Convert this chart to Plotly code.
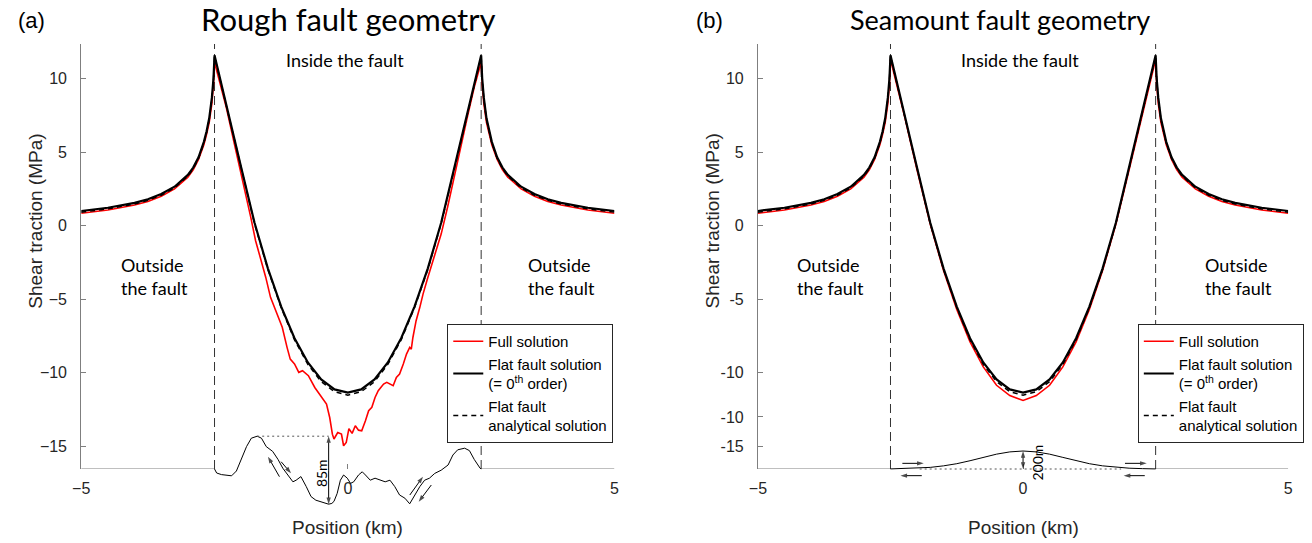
import plotly.graph_objects as go

W, H = 1312, 543

# ---------------- data ----------------
FAULT_EDGE = 2.5          # fault tips at +/- 2.5 km
X_TICKS = [-5, 0, 5]
Y_TICKS_A = [-15, -10, -5, 0, 5, 10]
Y_TICKS_B = [-15, -13, -10, -5, 0, 5, 10]
Y_TICKTEXT_B = ["-15", "-10", "-10", "-5", "0", "5", "10"]

# positions (km) shared by the flat-fault curves
x_flat = [-5.0, -4.5, -4.0, -3.75, -3.5, -3.25, -3.0, -2.9, -2.8, -2.7, -2.65, -2.6, -2.55, -2.52, -2.5,
          -2.45, -2.35, -2.25, -2.0, -1.75, -1.5, -1.25, -1.0, -0.75, -0.5, -0.25,
          0.0,
          0.25, 0.5, 0.75, 1.0, 1.25, 1.5, 1.75, 2.0, 2.25, 2.35, 2.45,
          2.5, 2.52, 2.55, 2.6, 2.65, 2.7, 2.8, 2.9, 3.0, 3.25, 3.5, 3.75, 4.0, 4.5, 5.0]

# flat fault solution (= 0th order), MPa
tau_flat = [1.00, 1.22, 1.55, 1.80, 2.15, 2.65, 3.45, 3.95, 4.65, 5.70, 6.40, 7.30, 8.70, 10.00, 11.58,
            10.80, 9.30, 7.83, 3.95, 0.20, -2.90, -5.50, -7.65, -9.30, -10.45, -11.13,
            -11.35,
            -11.13, -10.45, -9.30, -7.65, -5.50, -2.90, 0.20, 3.95, 7.83, 9.30, 10.80,
            11.58, 10.00, 8.70, 7.30, 6.40, 5.70, 4.65, 3.95, 3.45, 2.65, 2.15, 1.80, 1.55, 1.22, 1.00]

# flat fault analytical solution, MPa
tau_analytic = [0.92, 1.14, 1.47, 1.72, 2.07, 2.57, 3.37, 3.87, 4.57, 5.62, 6.32, 7.22, 8.62, 9.92, 11.50,
                10.75, 9.25, 7.78, 3.90, 0.14, -2.97, -5.58, -7.76, -9.43, -10.60, -11.29,
                -11.52,
                -11.29, -10.60, -9.43, -7.76, -5.58, -2.97, 0.14, 3.90, 7.78, 9.25, 10.75,
                11.50, 9.92, 8.62, 7.22, 6.32, 5.62, 4.57, 3.87, 3.37, 2.57, 2.07, 1.72, 1.47, 1.14, 0.92]

# full solution on the seamount fault, MPa
tau_seamount = [0.85, 1.07, 1.40, 1.65, 2.00, 2.50, 3.30, 3.80, 4.50, 5.50, 6.20, 7.00, 8.30, 9.60, 11.30,
                10.60, 9.10, 7.65, 3.80, 0.10, -3.05, -5.70, -7.90, -9.60, -10.85, -11.55,
                -11.88,
                -11.55, -10.85, -9.60, -7.90, -5.70, -3.05, 0.10, 3.80, 7.65, 9.10, 10.60,
                11.30, 9.60, 8.30, 7.00, 6.20, 5.50, 4.50, 3.80, 3.30, 2.50, 2.00, 1.65, 1.40, 1.07, 0.85]

# full solution on the rough fault
x_rough = [-5.0, -4.5, -4.0, -3.75, -3.5, -3.25, -3.0, -2.9, -2.8, -2.7, -2.65, -2.6, -2.55, -2.52, -2.5,
           -2.41, -2.28, -2.10, -1.91, -1.82, -1.73, -1.64, -1.54, -1.45, -1.33, -1.23, -1.14, -1.08,
           -1.00, -0.92, -0.85, -0.74, -0.62, -0.49, -0.40, -0.34, -0.29, -0.26, -0.19, -0.12, -0.08,
           -0.03, 0.02, 0.08, 0.14, 0.20, 0.26, 0.33, 0.39, 0.45, 0.51, 0.57, 0.67, 0.73, 0.79, 0.85,
           0.91, 0.97, 1.04, 1.10, 1.16, 1.19, 1.22, 1.28, 1.35, 1.41, 1.50, 1.62, 1.75, 1.87, 1.99,
           2.12, 2.24, 2.37,
           2.5, 2.52, 2.55, 2.6, 2.65, 2.7, 2.8, 2.9, 3.0, 3.25, 3.5, 3.75, 4.0, 4.5, 5.0]
tau_rough = [0.85, 1.07, 1.40, 1.65, 2.00, 2.50, 3.30, 3.80, 4.50, 5.50, 6.20, 7.00, 8.30, 9.60, 11.10,
             9.86, 8.05, 5.10, 2.16, 0.57, -1.02, -2.15, -3.50, -4.87, -6.00, -6.90, -8.27, -9.07,
             -9.40, -9.97, -9.86, -10.20, -11.00, -11.68, -12.13, -13.04, -14.17, -14.50, -14.06, -14.17, -14.96,
             -14.73, -13.80, -14.12, -13.60, -13.90, -13.94, -13.26, -12.58, -12.35, -11.68, -11.22, -10.77, -10.65, -10.77, -10.88,
             -10.31, -10.09, -9.41, -8.73, -8.27, -8.39, -7.60, -6.46, -5.55, -4.65, -3.52, -2.15, -0.57, 1.25, 3.29,
             5.56, 7.37, 9.41,
             11.10, 9.60, 8.30, 7.00, 6.20, 5.50, 4.50, 3.80, 3.30, 2.50, 2.00, 1.65, 1.40, 1.07, 0.85]

# rough fault profile: elevation (m) along the fault
x_rough_prof = [-2.5, -2.46, -2.37, -2.28, -2.18, -2.09, -2.0, -1.9, -1.81, -1.70, -1.62, -1.53, -1.41,
                -1.31, -1.22, -1.13, -1.03, -0.97, -0.88, -0.78, -0.69, -0.60, -0.51, -0.42, -0.36, -0.30,
                -0.26, -0.20, -0.14, -0.08, -0.01, 0.05, 0.11, 0.20, 0.27, 0.33, 0.42, 0.51, 0.61, 0.70,
                0.79, 0.88, 0.97, 1.07, 1.16, 1.25, 1.35, 1.44, 1.53, 1.63, 1.75, 1.88, 1.97, 2.06, 2.19,
                2.28, 2.37, 2.48, 2.5]
h_rough_prof = [0, -5, -7, -7.5, -8.5, -2.5, 12, 28, 38.5, 41, 38.5, 28, 22,
                12, 1, -7.5, -16, -14, -9.5, -22, -34.5, -39, -41, -43, -44, -43,
                -40.5, -30.5, -14, -7.5, -11.5, -18, -16, -7.5, -3.5, -7.5, -14, -11.5, -14, -16,
                -14, -22, -32.5, -36.5, -43.5, -32.5, -22, -14, -11.5, -5.5, -1.5, 5, 17.5, 24, 26,
                23, 12, 1, 0]

# seamount profile: elevation (m) along the fault
x_sea_prof = [-2.5, -2.25, -2.0, -1.75, -1.5, -1.25, -1.0, -0.75, -0.5, -0.25, 0.0,
              0.25, 0.5, 0.75, 1.0, 1.25, 1.5, 1.75, 2.0, 2.25, 2.5]
h_sea_prof = [1, 4, 9, 18, 35, 59, 92, 129, 165, 190, 200,
              190, 165, 129, 92, 59, 35, 18, 9, 4, 1]

# ---------------- layout constants ----------------
Y_RANGE = [-16.54, 12.35]
TOP_PX, BASE_PX = 44, 469          # top / bottom of the traction axis
PROF_TOP_PX, PROF_BOT_PX = 410, 540  # band used for the fault sketches
PANELS = {
    "a": dict(x0=73, x1=612, scale=0.8),   # profile scale in px per metre
    "b": dict(x0=757, x1=1293, scale=0.09),
}

AX_GREY = "#7f7f7f"
TXT = "#262626"
MATLAB_FONT = "Liberation Sans"
NOTE_FONT = "Lato"


def prof_range(scale):
    return [-(PROF_BOT_PX - BASE_PX) / scale, (BASE_PX - PROF_TOP_PX) / scale]


fig = go.Figure()

traction_sets = [
    ("x", "y", "legend", x_rough, tau_rough),
    ("x2", "y2", "legend2", x_flat, tau_seamount),
]
for xa, ya, leg, xr, tr in traction_sets:
    fig.add_trace(go.Scatter(x=xr, y=tr, mode="lines", name="Full solution",
                             line=dict(color="#ff0000", width=1.6),
                             xaxis=xa, yaxis=ya, legend=leg))
    fig.add_trace(go.Scatter(x=x_flat, y=tau_flat, mode="lines",
                             name="Flat fault solution<br>(= 0<sup>th</sup> order)",
                             line=dict(color="black", width=2.2),
                             xaxis=xa, yaxis=ya, legend=leg))
    fig.add_trace(go.Scatter(x=x_flat, y=tau_analytic, mode="lines",
                             name="Flat fault<br>analytical solution",
                             line=dict(color="black", width=1.5, dash="5px,4px"),
                             xaxis=xa, yaxis=ya, legend=leg))

# fault sketches
fig.add_trace(go.Scatter(x=x_rough_prof, y=h_rough_prof, mode="lines",
                         line=dict(color="black", width=1), xaxis="x", yaxis="y3",
                         showlegend=False, hoverinfo="skip"))
fig.add_trace(go.Scatter(x=x_sea_prof, y=h_sea_prof, mode="lines",
                         line=dict(color="black", width=1), xaxis="x2", yaxis="y4",
                         showlegend=False, hoverinfo="skip"))

# rough fault: dotted reference from highest crest to deepest trough
i_peak = h_rough_prof.index(max(h_rough_prof))
i_trough = h_rough_prof.index(min(h_rough_prof))
x_peak, h_peak = x_rough_prof[i_peak], h_rough_prof[i_peak]
x_trough, h_trough = x_rough_prof[i_trough], h_rough_prof[i_trough]
fig.add_trace(go.Scatter(x=[x_peak, x_trough], y=[h_peak, h_peak], mode="lines",
                         line=dict(color="#555555", width=1, dash="2px,3px"),
                         xaxis="x", yaxis="y3", showlegend=False, hoverinfo="skip"))
# seamount: dotted flat reference under the bump
fig.add_trace(go.Scatter(x=[-1.95, 1.85], y=[0, 0], mode="lines",
                         line=dict(color="#555555", width=1, dash="2px,3px"),
                         xaxis="x2", yaxis="y4", showlegend=False, hoverinfo="skip"))


def arrow(xa, ya, x_tail, y_tail, x_head, y_head):
    """Thin line with an arrow head at (x_head, y_head)."""
    fig.add_trace(go.Scatter(x=[x_tail, x_head], y=[y_tail, y_head], mode="lines+markers",
                             line=dict(color="black", width=1),
                             marker=dict(symbol="arrow", size=[0, 7], angleref="previous",
                                         color="black", line=dict(width=0)),
                             xaxis=xa, yaxis=ya, showlegend=False, hoverinfo="skip"))


def double_arrow(xa, ya, x0, y0, x1, y1):
    xm, ym = (x0 + x1) / 2, (y0 + y1) / 2
    arrow(xa, ya, xm, ym, x0, y0)
    arrow(xa, ya, xm, ym, x1, y1)


# rough fault: relief arrow and slip sense
double_arrow("x", "y3", x_trough, h_peak, x_trough, h_trough)
arrow("x", "y3", -1.283, -9.6, -1.498, 15.4)
arrow("x", "y3", -1.251, 9.1, -1.065, -5.4)
arrow("x", "y3", 1.162, -32.5, 1.409, -9.6)
arrow("x", "y3", 1.565, -20.0, 1.329, -40.9)

# seamount: height arrow and slip sense
h_top = max(h_sea_prof)
x_top = x_sea_prof[h_sea_prof.index(h_top)]
double_arrow("x2", "y4", x_top, 0, x_top, h_top)
arrow("x2", "y4", -2.276, 63, -1.873, 63)
arrow("x2", "y4", -1.910, -74, -2.313, -74)
arrow("x2", "y4", 1.922, 63, 2.332, 63)
arrow("x2", "y4", 2.295, -74, 1.897, -74)

# ---------------- axes ----------------
def xaxis_cfg(p, anchor):
    return dict(domain=[p["x0"] / W, p["x1"] / W], range=[-5, 5], anchor=anchor,
                showline=False, showgrid=False, zeroline=False,
                ticks="inside", ticklen=5, tickwidth=1, tickcolor=AX_GREY,
                ticklabelstandoff=8,
                tickvals=X_TICKS, tickfont=dict(family=MATLAB_FONT, size=16, color=TXT))


def yaxis_cfg(anchor, tickvals, ticktext=None):
    d = dict(domain=[1 - BASE_PX / H, 1 - TOP_PX / H], range=Y_RANGE, anchor=anchor,
             showline=True, linecolor=AX_GREY, linewidth=1, showgrid=False, zeroline=False,
             ticks="inside", ticklen=5, tickwidth=1, tickcolor=AX_GREY,
             ticklabelstandoff=10,
             tickvals=tickvals, tickfont=dict(family=MATLAB_FONT, size=16, color=TXT))
    if ticktext:
        d["ticktext"] = ticktext
    return d


def prof_axis_cfg(scale):
    return dict(domain=[1 - PROF_BOT_PX / H, 1 - PROF_TOP_PX / H], range=prof_range(scale),
                visible=False, anchor="free", position=0)


legend_common = dict(xanchor="left", yanchor="top", bgcolor="white",
                     bordercolor=TXT, borderwidth=1, itemwidth=30, tracegroupgap=0,
                     valign="middle",
                     font=dict(family=MATLAB_FONT, size=15, color="black"))

fig.update_layout(
    width=W, height=H, margin=dict(l=0, r=0, t=0, b=0),
    paper_bgcolor="white", plot_bgcolor="rgba(0,0,0,0)",
    xaxis=xaxis_cfg(PANELS["a"], "y"),
    xaxis2=xaxis_cfg(PANELS["b"], "y2"),
    yaxis=yaxis_cfg("x", Y_TICKS_A),
    yaxis2=yaxis_cfg("x2", Y_TICKS_B, Y_TICKTEXT_B),
    yaxis3=prof_axis_cfg(PANELS["a"]["scale"]),
    yaxis4=prof_axis_cfg(PANELS["b"]["scale"]),
    legend=dict(x=443 / W, y=1 - 324 / H, **legend_common),
    legend2=dict(x=1141 / W, y=1 - 324 / H, **legend_common),
    showlegend=True,
)

# ---------------- shapes: axis baseline pieces and fault tips ----------------
shapes = []
for xa, ya in (("x", "y"), ("x2", "y2")):
    for xs in ((-5, -FAULT_EDGE), (FAULT_EDGE, 5)):
        shapes.append(dict(type="line", xref=xa, yref=ya, x0=xs[0], x1=xs[1],
                           y0=Y_RANGE[0], y1=Y_RANGE[0], line=dict(color=AX_GREY, width=1),
                           layer="below"))
    for xe in (-FAULT_EDGE, FAULT_EDGE):
        shapes.append(dict(type="line", xref=xa, yref=ya, x0=xe, x1=xe,
                           y0=Y_RANGE[0], y1=Y_RANGE[1],
                           line=dict(color="#333333", width=1, dash="9px,5px"), layer="below"))
fig.update_layout(shapes=shapes)

# ---------------- annotations ----------------
ann = []


def text(x, y, s, size, family=NOTE_FONT, color="black", xref="paper", yref="paper",
         xanchor="center", yanchor="middle", align="center", angle=0):
    ann.append(dict(x=x, y=y, xref=xref, yref=yref, text=s, showarrow=False,
                    font=dict(family=family, size=size, color=color),
                    xanchor=xanchor, yanchor=yanchor, align=align, textangle=angle))


# panel titles and letters
text(343 / W, 1 - 19 / H, "Rough fault geometry", 31)
text(1002 / W, 1 - 19 / H, "Seamount fault geometry", 27)
text(7 / W, 1 - 20 / H, "(a)", 22, family=MATLAB_FONT, xanchor="left")
text(692 / W, 1 - 20 / H, "(b)", 22, family=MATLAB_FONT, xanchor="left")

# axis titles
for xc in (27, 712):
    text(xc / W, 1 - 221 / H, "Shear traction (MPa)", 19, family=MATLAB_FONT, color=TXT, angle=-90)
text(342 / W, 1 - 527 / H, "Position (km)", 19, family=MATLAB_FONT, color=TXT)
text(1025 / W, 1 - 527 / H, "Position (km)", 19, family=MATLAB_FONT, color=TXT)

# region labels
text(340 / W, 1 - 60 / H, "Inside the fault", 18)
text(1022 / W, 1 - 60 / H, "Inside the fault", 18)
for xl in (111, 523, 794, 1207):
    text(xl / W, 1 - 276 / H, "Outside<br>the fault", 18, xanchor="left", align="left")

# relief labels, taken from the profile data
text(x_trough - 0.13, (h_peak + h_trough) / 2 - 4, f"{h_peak - h_trough:.0f}m", 14,
     xref="x", yref="y3", angle=-90)
text(x_top + 0.28, h_top / 2 - 30, f"{h_top:.0f}m", 14, xref="x2", yref="y4", angle=-90)

fig.update_layout(annotations=ann)

fig.write_html("out.html")
